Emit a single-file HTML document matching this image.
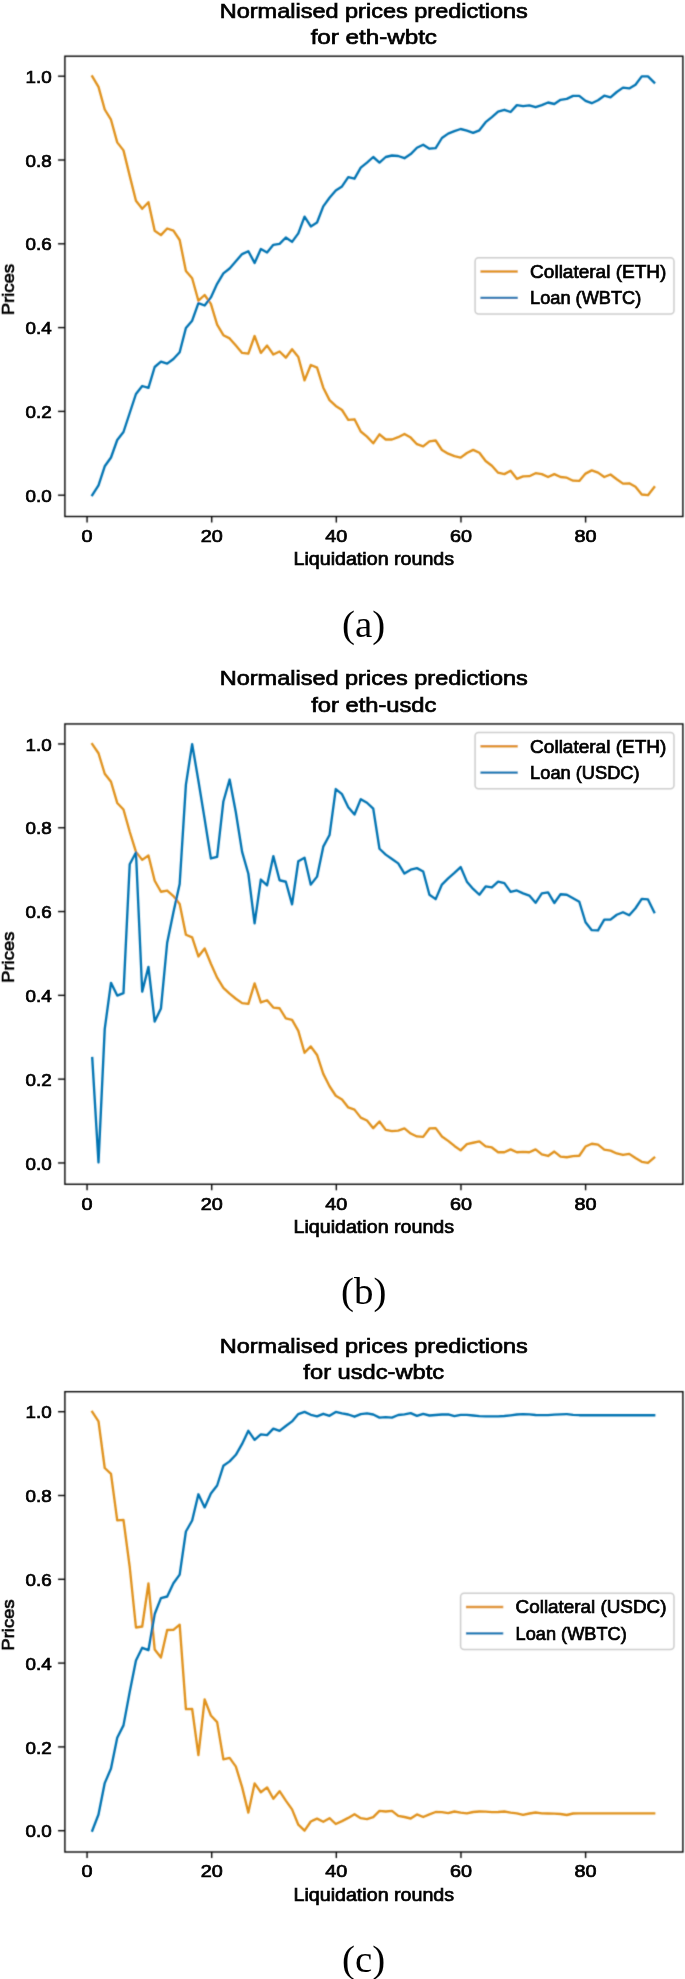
<!DOCTYPE html>
<html><head><meta charset="utf-8"><title>Normalised prices predictions</title>
<style>
html,body{margin:0;padding:0;background:#fff;}
body{width:685px;height:1979px;overflow:hidden;}
svg{display:block;}
svg text{font-family:"Liberation Sans", sans-serif;fill:#000;stroke:#000;stroke-width:0.7px;}
svg text.cap{font-family:"Liberation Serif", serif;stroke:none;}
</style></head>
<body>
<svg width="685" height="1979" viewBox="0 0 685 1979">
<defs><filter id="bl" x="0" y="0" width="685" height="1979" filterUnits="userSpaceOnUse"><feConvolveMatrix order="3" kernelMatrix="1 4 1 4 16 4 1 4 1" divisor="36.0" edgeMode="duplicate" preserveAlpha="false"/></filter></defs>
<rect x="0" y="0" width="685" height="1979" fill="#fff"/>
<g filter="url(#bl)">
<g transform="translate(0,0.00)">
<polyline points="92.25,76.40 98.50,86.90 104.74,109.50 110.99,119.70 117.23,142.40 123.47,150.40 129.72,175.90 135.96,200.80 142.21,208.80 148.45,202.20 154.69,230.70 160.94,235.10 167.18,228.50 173.43,230.70 179.67,240.00 185.91,271.00 192.16,278.20 198.40,300.70 204.65,295.00 210.89,303.90 217.13,324.70 223.38,335.20 229.62,338.40 235.87,345.60 242.11,352.90 248.35,353.70 254.60,336.00 260.84,352.90 267.09,345.60 273.33,354.50 279.57,351.50 285.82,357.70 292.06,349.30 298.31,357.00 304.55,380.40 310.79,365.00 317.04,367.70 323.28,387.70 329.53,400.10 335.77,405.90 342.01,410.00 348.26,419.80 354.50,419.30 360.75,431.50 366.99,436.60 373.23,443.30 379.48,434.30 385.72,439.50 391.97,439.50 398.21,437.20 404.45,434.00 410.70,437.60 416.94,444.20 423.19,446.40 429.43,441.30 435.67,440.50 441.92,450.00 448.16,453.70 454.41,456.20 460.65,457.60 466.89,453.00 473.14,449.90 479.38,452.80 485.63,461.00 491.87,465.70 498.11,472.70 504.36,474.10 510.60,470.80 516.85,478.80 523.09,476.30 529.33,476.20 535.58,473.20 541.82,474.10 548.07,477.00 554.31,474.10 560.55,477.00 566.80,477.70 573.04,480.70 579.29,480.90 585.53,473.60 591.77,470.40 598.02,472.60 604.26,477.00 610.51,474.50 616.75,479.20 622.99,483.60 629.24,483.30 635.48,486.80 641.73,494.50 647.97,495.20 654.21,487.20" fill="none" stroke="#E0921C" stroke-width="2.35" stroke-linejoin="round" stroke-linecap="square"/>
<polyline points="92.25,495.20 98.50,485.30 104.74,466.30 110.99,457.50 117.23,440.00 123.47,432.00 129.72,413.00 135.96,394.00 142.21,386.00 148.45,387.90 154.69,367.00 160.94,361.60 167.18,363.60 173.43,359.00 179.67,352.20 185.91,328.00 192.16,320.70 198.40,303.10 204.65,305.50 210.89,297.40 217.13,283.80 223.38,273.40 229.62,268.50 235.87,261.30 242.11,254.10 248.35,251.20 254.60,262.90 260.84,249.00 267.09,252.50 273.33,244.80 279.57,243.80 285.82,237.50 292.06,241.90 298.31,233.40 304.55,216.60 310.79,226.40 317.04,222.50 323.28,206.40 329.53,197.70 335.77,190.40 342.01,186.40 348.26,177.20 354.50,178.70 360.75,167.70 366.99,162.60 373.23,157.00 379.48,162.60 385.72,157.00 391.97,155.50 398.21,156.00 404.45,158.20 410.70,154.10 416.94,147.70 423.19,144.70 429.43,148.70 435.67,148.20 441.92,138.00 448.16,133.60 454.41,131.20 460.65,129.00 466.89,130.60 473.14,132.90 479.38,130.30 485.63,122.20 491.87,117.10 498.11,111.60 504.36,109.80 510.60,112.00 516.85,105.10 523.09,106.20 529.33,105.40 535.58,107.20 541.82,105.10 548.07,102.50 554.31,104.00 560.55,99.80 566.80,98.90 573.04,95.90 579.29,95.90 585.53,100.80 591.77,103.20 598.02,100.30 604.26,95.70 610.51,97.40 616.75,92.00 622.99,87.60 629.24,88.40 635.48,84.70 641.73,76.40 647.97,76.40 654.21,82.50" fill="none" stroke="#0173B2" stroke-width="2.35" stroke-linejoin="round" stroke-linecap="square"/>
<rect x="64.9" y="56.2" width="618.00" height="460.30" fill="none" stroke="#000" stroke-width="1.38"/>
<line x1="58.05" y1="495.20" x2="64.9" y2="495.20" stroke="#000" stroke-width="1.38"/>
<line x1="58.05" y1="411.40" x2="64.9" y2="411.40" stroke="#000" stroke-width="1.38"/>
<line x1="58.05" y1="327.60" x2="64.9" y2="327.60" stroke="#000" stroke-width="1.38"/>
<line x1="58.05" y1="243.80" x2="64.9" y2="243.80" stroke="#000" stroke-width="1.38"/>
<line x1="58.05" y1="160.00" x2="64.9" y2="160.00" stroke="#000" stroke-width="1.38"/>
<line x1="58.05" y1="76.20" x2="64.9" y2="76.20" stroke="#000" stroke-width="1.38"/>
<line x1="87.07" y1="516.5" x2="87.07" y2="522.55" stroke="#000" stroke-width="1.38"/>
<line x1="211.70" y1="516.5" x2="211.70" y2="522.55" stroke="#000" stroke-width="1.38"/>
<line x1="336.33" y1="516.5" x2="336.33" y2="522.55" stroke="#000" stroke-width="1.38"/>
<line x1="460.97" y1="516.5" x2="460.97" y2="522.55" stroke="#000" stroke-width="1.38"/>
<line x1="585.60" y1="516.5" x2="585.60" y2="522.55" stroke="#000" stroke-width="1.38"/>
<rect x="475.1" y="257.7" width="198.85" height="56.40" rx="3.5" fill="#fff" fill-opacity="0.8" stroke="#cccccc" stroke-width="1.5"/>
<line x1="481.60" y1="271.50" x2="516.60" y2="271.50" stroke="#E0921C" stroke-width="2.35" stroke-linecap="square"/>
<line x1="481.60" y1="297.90" x2="516.60" y2="297.90" stroke="#0173B2" stroke-width="2.35" stroke-linecap="square"/>
</g>
<g transform="translate(0,667.75)">
<polyline points="92.25,76.40 98.50,85.50 104.74,106.00 110.99,114.00 117.23,135.20 123.47,141.80 129.72,164.00 135.96,184.10 142.21,192.10 148.45,187.70 154.69,213.00 160.94,224.00 167.18,222.80 173.43,228.30 179.67,236.30 185.91,267.00 192.16,269.70 198.40,288.70 204.65,280.70 210.89,296.00 217.13,309.90 223.38,320.10 229.62,325.90 235.87,331.00 242.11,335.40 248.35,336.10 254.60,315.70 260.84,334.70 267.09,332.50 273.33,339.80 279.57,340.50 285.82,350.70 292.06,352.10 298.31,363.10 304.55,385.00 310.79,378.70 317.04,387.20 323.28,406.10 329.53,418.50 335.77,428.00 342.01,431.70 348.26,439.70 354.50,441.90 360.75,449.90 366.99,452.80 373.23,460.40 379.48,453.70 385.72,462.10 391.97,463.30 398.21,462.80 404.45,460.70 410.70,465.80 416.94,468.70 423.19,469.10 429.43,460.70 435.67,460.40 441.92,468.70 448.16,473.10 454.41,478.20 460.65,482.60 466.89,476.30 473.14,475.00 479.38,473.60 485.63,478.70 491.87,479.70 498.11,484.50 504.36,484.50 510.60,481.60 516.85,484.50 523.09,484.10 529.33,484.50 535.58,481.60 541.82,486.70 548.07,488.20 554.31,483.80 560.55,488.80 566.80,489.50 573.04,488.40 579.29,488.00 585.53,478.80 591.77,476.00 598.02,476.90 604.26,481.80 610.51,482.90 616.75,485.70 622.99,487.20 629.24,486.10 635.48,490.30 641.73,494.10 647.97,495.20 654.21,489.80" fill="none" stroke="#E0921C" stroke-width="2.35" stroke-linejoin="round" stroke-linecap="square"/>
<polyline points="92.25,390.30 98.50,494.70 104.74,361.10 110.99,315.10 117.23,327.80 123.47,325.40 129.72,196.50 135.96,184.80 142.21,323.90 148.45,299.10 154.69,353.80 160.94,340.70 167.18,275.00 173.43,244.50 179.67,216.20 185.91,116.90 192.16,76.40 198.40,113.00 204.65,151.40 210.89,190.70 217.13,189.20 223.38,133.70 229.62,111.80 235.87,144.70 242.11,184.10 248.35,206.00 254.60,255.60 260.84,211.80 267.09,217.60 273.33,188.40 279.57,212.50 285.82,214.00 292.06,236.60 298.31,193.50 304.55,189.90 310.79,216.90 317.04,208.90 323.28,178.90 329.53,167.30 335.77,121.30 342.01,126.40 348.26,139.50 354.50,146.80 360.75,131.40 366.99,135.00 373.23,140.90 379.48,181.00 385.72,186.90 391.97,191.20 398.21,195.60 404.45,205.80 410.70,201.90 416.94,200.40 423.19,203.70 429.43,227.00 435.67,231.40 441.92,216.80 448.16,210.60 454.41,205.10 460.65,199.30 466.89,213.90 473.14,221.20 479.38,227.00 485.63,218.70 491.87,219.70 498.11,213.90 504.36,215.40 510.60,224.10 516.85,222.70 523.09,225.60 529.33,227.80 535.58,235.10 541.82,225.70 548.07,224.70 554.31,235.20 560.55,226.50 566.80,227.00 573.04,230.50 579.29,234.00 585.53,254.50 591.77,262.40 598.02,262.70 604.26,251.90 610.51,251.90 616.75,247.00 622.99,244.50 629.24,247.50 635.48,240.50 641.73,231.20 647.97,231.70 654.21,244.50" fill="none" stroke="#0173B2" stroke-width="2.35" stroke-linejoin="round" stroke-linecap="square"/>
<rect x="64.9" y="56.2" width="618.00" height="460.30" fill="none" stroke="#000" stroke-width="1.38"/>
<line x1="58.05" y1="495.20" x2="64.9" y2="495.20" stroke="#000" stroke-width="1.38"/>
<line x1="58.05" y1="411.40" x2="64.9" y2="411.40" stroke="#000" stroke-width="1.38"/>
<line x1="58.05" y1="327.60" x2="64.9" y2="327.60" stroke="#000" stroke-width="1.38"/>
<line x1="58.05" y1="243.80" x2="64.9" y2="243.80" stroke="#000" stroke-width="1.38"/>
<line x1="58.05" y1="160.00" x2="64.9" y2="160.00" stroke="#000" stroke-width="1.38"/>
<line x1="58.05" y1="76.20" x2="64.9" y2="76.20" stroke="#000" stroke-width="1.38"/>
<line x1="87.07" y1="516.5" x2="87.07" y2="522.55" stroke="#000" stroke-width="1.38"/>
<line x1="211.70" y1="516.5" x2="211.70" y2="522.55" stroke="#000" stroke-width="1.38"/>
<line x1="336.33" y1="516.5" x2="336.33" y2="522.55" stroke="#000" stroke-width="1.38"/>
<line x1="460.97" y1="516.5" x2="460.97" y2="522.55" stroke="#000" stroke-width="1.38"/>
<line x1="585.60" y1="516.5" x2="585.60" y2="522.55" stroke="#000" stroke-width="1.38"/>
<rect x="475.1" y="64.65" width="198.85" height="56.40" rx="3.5" fill="#fff" fill-opacity="0.8" stroke="#cccccc" stroke-width="1.5"/>
<line x1="481.60" y1="78.45" x2="516.60" y2="78.45" stroke="#E0921C" stroke-width="2.35" stroke-linecap="square"/>
<line x1="481.60" y1="104.85" x2="516.60" y2="104.85" stroke="#0173B2" stroke-width="2.35" stroke-linecap="square"/>
</g>
<g transform="translate(0,1335.50)">
<polyline points="92.25,76.40 98.50,85.80 104.74,132.50 110.99,138.30 117.23,184.90 123.47,184.40 129.72,231.50 135.96,292.00 142.21,291.00 148.45,248.00 154.69,314.00 160.94,322.00 167.18,294.50 173.43,294.30 179.67,289.20 185.91,373.70 192.16,373.50 198.40,419.50 204.65,364.00 210.89,380.00 217.13,386.60 223.38,423.80 229.62,422.40 235.87,431.10 242.11,451.60 248.35,477.10 254.60,447.90 260.84,456.70 267.09,451.90 273.33,463.30 279.57,455.70 285.82,465.10 292.06,473.90 298.31,489.20 304.55,495.20 310.79,486.00 317.04,483.10 323.28,486.30 329.53,482.70 335.77,488.50 342.01,485.60 348.26,482.40 354.50,478.70 360.75,482.70 366.99,483.70 373.23,481.70 379.48,475.40 385.72,476.00 391.97,475.40 398.21,480.40 404.45,481.50 410.70,483.00 416.94,478.90 423.19,481.50 429.43,478.90 435.67,476.50 441.92,476.70 448.16,477.60 454.41,476.00 460.65,477.10 466.89,477.80 473.14,476.50 479.38,476.00 485.63,476.20 491.87,476.70 498.11,476.50 504.36,476.00 510.60,477.10 516.85,477.80 523.09,479.30 529.33,478.00 535.58,477.00 541.82,477.80 548.07,478.00 554.31,478.20 560.55,478.50 566.80,479.50 573.04,478.00 579.29,477.80 585.53,477.80 591.77,477.80 598.02,477.80 604.26,477.80 610.51,477.80 616.75,477.80 622.99,477.80 629.24,477.80 635.48,477.80 641.73,477.80 647.97,477.80 654.21,477.80" fill="none" stroke="#E0921C" stroke-width="2.35" stroke-linejoin="round" stroke-linecap="square"/>
<polyline points="92.25,495.20 98.50,479.00 104.74,447.60 110.99,433.00 117.23,402.30 123.47,389.90 129.72,356.40 135.96,325.00 142.21,312.30 148.45,314.70 154.69,278.50 160.94,262.60 167.18,261.00 173.43,247.80 179.67,239.10 185.91,196.00 192.16,185.00 198.40,158.80 204.65,171.90 210.89,158.00 217.13,150.00 223.38,130.30 229.62,125.90 235.87,119.30 242.11,108.40 248.35,95.30 254.60,104.30 260.84,98.90 267.09,99.60 273.33,93.10 279.57,95.40 285.82,90.50 292.06,85.90 298.31,78.60 304.55,76.40 310.79,79.30 317.04,80.80 323.28,78.30 329.53,80.30 335.77,76.40 342.01,77.80 348.26,79.00 354.50,81.20 360.75,78.60 366.99,77.80 373.23,79.00 379.48,82.10 385.72,81.70 391.97,82.10 398.21,79.50 404.45,78.80 410.70,77.70 416.94,80.40 423.19,78.40 429.43,80.00 435.67,79.50 441.92,79.00 448.16,78.80 454.41,80.60 460.65,79.40 466.89,79.30 473.14,80.00 479.38,80.70 485.63,80.90 491.87,80.90 498.11,80.80 504.36,80.50 510.60,79.80 516.85,79.00 523.09,78.60 529.33,78.90 535.58,79.50 541.82,79.60 548.07,79.60 554.31,79.20 560.55,78.90 566.80,78.60 573.04,79.40 579.29,79.70 585.53,79.70 591.77,79.70 598.02,79.70 604.26,79.70 610.51,79.70 616.75,79.70 622.99,79.70 629.24,79.70 635.48,79.70 641.73,79.70 647.97,79.70 654.21,79.70" fill="none" stroke="#0173B2" stroke-width="2.35" stroke-linejoin="round" stroke-linecap="square"/>
<rect x="64.9" y="56.2" width="618.00" height="460.30" fill="none" stroke="#000" stroke-width="1.38"/>
<line x1="58.05" y1="495.20" x2="64.9" y2="495.20" stroke="#000" stroke-width="1.38"/>
<line x1="58.05" y1="411.40" x2="64.9" y2="411.40" stroke="#000" stroke-width="1.38"/>
<line x1="58.05" y1="327.60" x2="64.9" y2="327.60" stroke="#000" stroke-width="1.38"/>
<line x1="58.05" y1="243.80" x2="64.9" y2="243.80" stroke="#000" stroke-width="1.38"/>
<line x1="58.05" y1="160.00" x2="64.9" y2="160.00" stroke="#000" stroke-width="1.38"/>
<line x1="58.05" y1="76.20" x2="64.9" y2="76.20" stroke="#000" stroke-width="1.38"/>
<line x1="87.07" y1="516.5" x2="87.07" y2="522.55" stroke="#000" stroke-width="1.38"/>
<line x1="211.70" y1="516.5" x2="211.70" y2="522.55" stroke="#000" stroke-width="1.38"/>
<line x1="336.33" y1="516.5" x2="336.33" y2="522.55" stroke="#000" stroke-width="1.38"/>
<line x1="460.97" y1="516.5" x2="460.97" y2="522.55" stroke="#000" stroke-width="1.38"/>
<line x1="585.60" y1="516.5" x2="585.60" y2="522.55" stroke="#000" stroke-width="1.38"/>
<rect x="460.6" y="257.7" width="213.35" height="56.40" rx="3.5" fill="#fff" fill-opacity="0.8" stroke="#cccccc" stroke-width="1.5"/>
<line x1="467.10" y1="271.50" x2="502.10" y2="271.50" stroke="#E0921C" stroke-width="2.35" stroke-linecap="square"/>
<line x1="467.10" y1="297.90" x2="502.10" y2="297.90" stroke="#0173B2" stroke-width="2.35" stroke-linecap="square"/>
</g>
</g>
<g >
<g transform="translate(0,0.00)">
<text x="373.80" y="17.70" font-size="20.6" text-anchor="middle" textLength="308.15" lengthAdjust="spacingAndGlyphs">Normalised prices predictions</text>
<text x="373.80" y="43.80" font-size="20.6" text-anchor="middle" textLength="126.35" lengthAdjust="spacingAndGlyphs">for eth-wbtc</text>
<text x="51.70" y="501.80" font-size="17.0" text-anchor="end" textLength="26.14" lengthAdjust="spacingAndGlyphs">0.0</text>
<text x="51.70" y="418.00" font-size="17.0" text-anchor="end" textLength="26.14" lengthAdjust="spacingAndGlyphs">0.2</text>
<text x="51.70" y="334.20" font-size="17.0" text-anchor="end" textLength="26.14" lengthAdjust="spacingAndGlyphs">0.4</text>
<text x="51.70" y="250.40" font-size="17.0" text-anchor="end" textLength="26.14" lengthAdjust="spacingAndGlyphs">0.6</text>
<text x="51.70" y="166.60" font-size="17.0" text-anchor="end" textLength="26.14" lengthAdjust="spacingAndGlyphs">0.8</text>
<text x="51.70" y="82.80" font-size="17.0" text-anchor="end" textLength="26.14" lengthAdjust="spacingAndGlyphs">1.0</text>
<text x="87.07" y="541.80" font-size="17.0" text-anchor="middle" textLength="11.01" lengthAdjust="spacingAndGlyphs">0</text>
<text x="211.70" y="541.80" font-size="17.0" text-anchor="middle" textLength="22.01" lengthAdjust="spacingAndGlyphs">20</text>
<text x="336.33" y="541.80" font-size="17.0" text-anchor="middle" textLength="22.01" lengthAdjust="spacingAndGlyphs">40</text>
<text x="460.97" y="541.80" font-size="17.0" text-anchor="middle" textLength="22.01" lengthAdjust="spacingAndGlyphs">60</text>
<text x="585.60" y="541.80" font-size="17.0" text-anchor="middle" textLength="22.01" lengthAdjust="spacingAndGlyphs">80</text>
<text x="373.80" y="565.30" font-size="17.8" text-anchor="middle" textLength="160.66" lengthAdjust="spacingAndGlyphs">Liquidation rounds</text>
<g transform="translate(13.9,289.6) rotate(-90)"><text x="0.00" y="0.00" font-size="17.2" text-anchor="middle" textLength="51.22" lengthAdjust="spacingAndGlyphs">Prices</text></g>
<text x="530.10" y="277.80" font-size="17.8" text-anchor="start" textLength="136.33" lengthAdjust="spacingAndGlyphs">Collateral (ETH)</text>
<text x="530.10" y="304.20" font-size="17.8" text-anchor="start" textLength="111.09" lengthAdjust="spacingAndGlyphs">Loan (WBTC)</text>
<text class="cap" x="363.7" y="636.5" font-size="38.9" text-anchor="middle">(a)</text>
</g>
<g transform="translate(0,667.75)">
<text x="373.80" y="17.70" font-size="20.6" text-anchor="middle" textLength="308.15" lengthAdjust="spacingAndGlyphs">Normalised prices predictions</text>
<text x="373.80" y="43.80" font-size="20.6" text-anchor="middle" textLength="125.21" lengthAdjust="spacingAndGlyphs">for eth-usdc</text>
<text x="51.70" y="501.80" font-size="17.0" text-anchor="end" textLength="26.14" lengthAdjust="spacingAndGlyphs">0.0</text>
<text x="51.70" y="418.00" font-size="17.0" text-anchor="end" textLength="26.14" lengthAdjust="spacingAndGlyphs">0.2</text>
<text x="51.70" y="334.20" font-size="17.0" text-anchor="end" textLength="26.14" lengthAdjust="spacingAndGlyphs">0.4</text>
<text x="51.70" y="250.40" font-size="17.0" text-anchor="end" textLength="26.14" lengthAdjust="spacingAndGlyphs">0.6</text>
<text x="51.70" y="166.60" font-size="17.0" text-anchor="end" textLength="26.14" lengthAdjust="spacingAndGlyphs">0.8</text>
<text x="51.70" y="82.80" font-size="17.0" text-anchor="end" textLength="26.14" lengthAdjust="spacingAndGlyphs">1.0</text>
<text x="87.07" y="541.80" font-size="17.0" text-anchor="middle" textLength="11.01" lengthAdjust="spacingAndGlyphs">0</text>
<text x="211.70" y="541.80" font-size="17.0" text-anchor="middle" textLength="22.01" lengthAdjust="spacingAndGlyphs">20</text>
<text x="336.33" y="541.80" font-size="17.0" text-anchor="middle" textLength="22.01" lengthAdjust="spacingAndGlyphs">40</text>
<text x="460.97" y="541.80" font-size="17.0" text-anchor="middle" textLength="22.01" lengthAdjust="spacingAndGlyphs">60</text>
<text x="585.60" y="541.80" font-size="17.0" text-anchor="middle" textLength="22.01" lengthAdjust="spacingAndGlyphs">80</text>
<text x="373.80" y="565.30" font-size="17.8" text-anchor="middle" textLength="160.66" lengthAdjust="spacingAndGlyphs">Liquidation rounds</text>
<g transform="translate(13.9,289.6) rotate(-90)"><text x="0.00" y="0.00" font-size="17.2" text-anchor="middle" textLength="51.22" lengthAdjust="spacingAndGlyphs">Prices</text></g>
<text x="530.10" y="84.75" font-size="17.8" text-anchor="start" textLength="136.33" lengthAdjust="spacingAndGlyphs">Collateral (ETH)</text>
<text x="530.10" y="111.15" font-size="17.8" text-anchor="start" textLength="109.53" lengthAdjust="spacingAndGlyphs">Loan (USDC)</text>
<text class="cap" x="363.7" y="636.5" font-size="38.9" text-anchor="middle">(b)</text>
</g>
<g transform="translate(0,1335.50)">
<text x="373.80" y="17.70" font-size="20.6" text-anchor="middle" textLength="308.15" lengthAdjust="spacingAndGlyphs">Normalised prices predictions</text>
<text x="373.80" y="43.80" font-size="20.6" text-anchor="middle" textLength="140.84" lengthAdjust="spacingAndGlyphs">for usdc-wbtc</text>
<text x="51.70" y="501.80" font-size="17.0" text-anchor="end" textLength="26.14" lengthAdjust="spacingAndGlyphs">0.0</text>
<text x="51.70" y="418.00" font-size="17.0" text-anchor="end" textLength="26.14" lengthAdjust="spacingAndGlyphs">0.2</text>
<text x="51.70" y="334.20" font-size="17.0" text-anchor="end" textLength="26.14" lengthAdjust="spacingAndGlyphs">0.4</text>
<text x="51.70" y="250.40" font-size="17.0" text-anchor="end" textLength="26.14" lengthAdjust="spacingAndGlyphs">0.6</text>
<text x="51.70" y="166.60" font-size="17.0" text-anchor="end" textLength="26.14" lengthAdjust="spacingAndGlyphs">0.8</text>
<text x="51.70" y="82.80" font-size="17.0" text-anchor="end" textLength="26.14" lengthAdjust="spacingAndGlyphs">1.0</text>
<text x="87.07" y="541.80" font-size="17.0" text-anchor="middle" textLength="11.01" lengthAdjust="spacingAndGlyphs">0</text>
<text x="211.70" y="541.80" font-size="17.0" text-anchor="middle" textLength="22.01" lengthAdjust="spacingAndGlyphs">20</text>
<text x="336.33" y="541.80" font-size="17.0" text-anchor="middle" textLength="22.01" lengthAdjust="spacingAndGlyphs">40</text>
<text x="460.97" y="541.80" font-size="17.0" text-anchor="middle" textLength="22.01" lengthAdjust="spacingAndGlyphs">60</text>
<text x="585.60" y="541.80" font-size="17.0" text-anchor="middle" textLength="22.01" lengthAdjust="spacingAndGlyphs">80</text>
<text x="373.80" y="565.30" font-size="17.8" text-anchor="middle" textLength="160.66" lengthAdjust="spacingAndGlyphs">Liquidation rounds</text>
<g transform="translate(13.9,289.6) rotate(-90)"><text x="0.00" y="0.00" font-size="17.2" text-anchor="middle" textLength="51.22" lengthAdjust="spacingAndGlyphs">Prices</text></g>
<text x="515.60" y="277.80" font-size="17.8" text-anchor="start" textLength="150.87" lengthAdjust="spacingAndGlyphs">Collateral (USDC)</text>
<text x="515.60" y="304.20" font-size="17.8" text-anchor="start" textLength="111.09" lengthAdjust="spacingAndGlyphs">Loan (WBTC)</text>
<text class="cap" x="363.7" y="636.5" font-size="38.9" text-anchor="middle">(c)</text>
</g>
</g>
</svg>
</body></html>
